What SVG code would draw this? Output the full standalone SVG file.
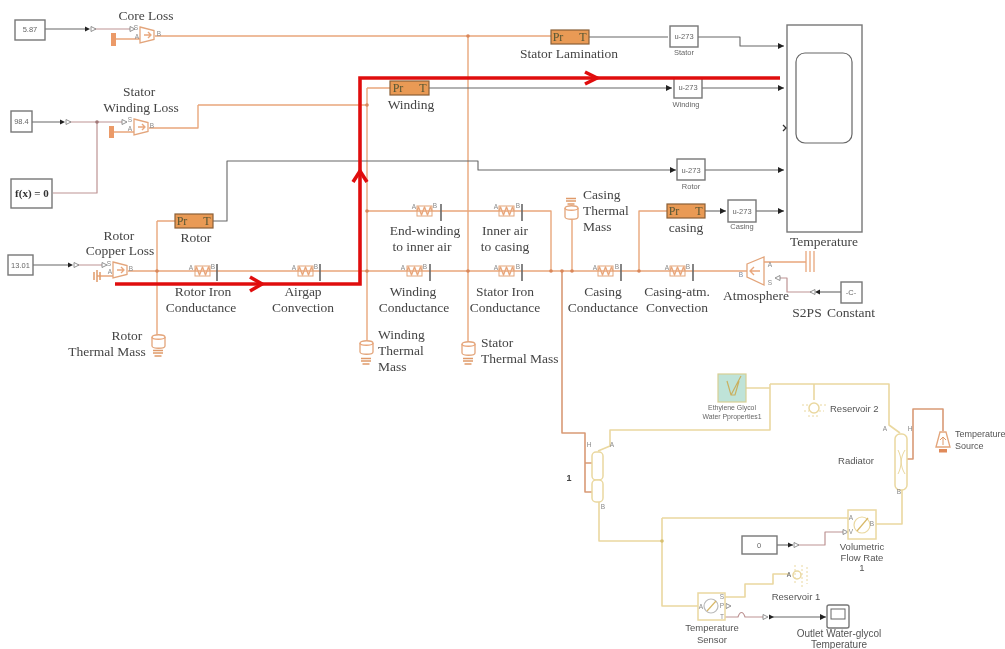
<svg xmlns="http://www.w3.org/2000/svg" width="1005" height="649" viewBox="0 0 1005 649">
<style>
text{font-family:"Liberation Serif","Times New Roman",serif;font-size:13.5px;fill:#444;text-anchor:middle}
.l{text-anchor:start}
.s{font-family:"Liberation Sans",Arial,sans-serif;font-size:7.5px;fill:#666}
.e{font-family:"Liberation Sans",Arial,sans-serif;font-size:6.9px;fill:#666}
.m{font-family:"Liberation Sans",Arial,sans-serif;font-size:9.500px;fill:#555}
.p{font-family:"Liberation Sans",Arial,sans-serif;font-size:6.500px;fill:#888}
.n{font-family:"Liberation Sans",Arial,sans-serif;font-size:9.500px;fill:#555}
.c{fill:none;stroke-linejoin:round}
.o{stroke:#e9a77c;stroke-width:1.4}
.g{stroke:#666;stroke-width:1.1}
.v{stroke:#bd9393;stroke-width:1.2}
.y{stroke:#ead8a0;stroke-width:1.6}
.d{stroke:#d99a76;stroke-width:1.6}
.r{stroke:#e01010;stroke-width:3.6;fill:none}
.box{fill:#fff;stroke:#777;stroke-width:1.4}
.ob{fill:#fff;stroke:#e3a57b;stroke-width:1.3}
.yb{fill:#fff;stroke:#ead8a0;stroke-width:1.5}
.pt{fill:#e99a55;stroke:#8a6038;stroke-width:1.2}
.bar{stroke:#666;stroke-width:1.6;fill:none}
.pl{font-size:12px;fill:#553}
</style>
<defs>
<filter id="soft" x="0" y="0" width="100%" height="100%"><feGaussianBlur stdDeviation="0.35"/></filter>
<marker id="a" markerWidth="7" markerHeight="6" refX="6" refY="3" orient="auto" markerUnits="userSpaceOnUse"><path d="M0 0L6 3L0 6z" fill="#222"/></marker>
<g id="res"><path class="c o" d="M0 0l1.500-4 3 8 3-8 3 8 3-8 1.500 4"/><rect x="0" y="-5" width="15" height="10" fill="none" stroke="#e3a57b"/></g>
<g id="tri"><path d="M0 -2.500L5 0L0 2.500z" fill="#fff" stroke="#777" stroke-width=".8"/></g>
<g id="ftri"><path d="M0 -2.500L5 0L0 2.500z" fill="#222"/></g>
<g id="src"><path class="ob" d="M0 -8L14 -4.500V4.500L0 8z"/><path d="M4 0H10M8 -3L11 0L8 3" class="c o"/></g>
<g id="cyl"><path class="ob" d="M0 2C0 -1 13 -1 13 2V11C13 14 0 14 0 11z"/><path class="c o" d="M0 2C0 5 13 5 13 2"/></g>
<g id="gnd"><path d="M-5 0H5M-3.500 3H3.500M-5 -2.500H5" stroke="#e09a6a" stroke-width="1.500" fill="none"/></g>
</defs>
<g id="diagram" filter="url(#soft)">
<rect width="1005" height="649" fill="#fff"/>
<g id="connectors">
<path class="c o" d="M155 36H551M468 36V342M367 88H390M367 88V341M198 105H367M149 128H198V105"/>
<path class="c o" d="M128 271H747M157 221H175M157 221V335M367 211H551V271M572 220V271M639 271V211H667"/>
<path class="c o" d="M113 39H140M111 132H134M97 276H113M764 262H806"/>
<path class="c g" d="M45 29H85M32 122H60M33 265H68M589 37H668M698 37H740V46H784" marker-end="url(#a)"/>
<path class="c g" d="M429 88H672" marker-end="url(#a)"/><path class="c g" d="M702 88H784" marker-end="url(#a)"/>
<path class="c g" d="M213 221H227V161H478V170H676" marker-end="url(#a)"/><path class="c g" d="M705 170H784" marker-end="url(#a)"/>
<path class="c g" d="M705 211H726" marker-end="url(#a)"/><path class="c g" d="M756 211H784" marker-end="url(#a)"/>
<path class="c g" d="M841 292H820"/><path class="c g" d="M777 545H793"/><path class="c g" d="M771 617H826" marker-end="url(#a)"/>
<path class="c v" d="M92 29H130M68 122H122M53 193H97V122M74 265H102M815 292H787V278H778M798 545H825V532H845M725 617H738C740 611 743 611 745 617H765"/>
<path class="c d" d="M562 271V433H585V492H592M585 463H592M585 433V452M943 431V409H913V459H907"/>
<path class="c y" d="M746 388H770M770 384H889V425L900 433M770 384V430H610V446L598 451M599 502V541H662M662 518H848M662 518V606H698M876 524H902V490M725 597H745V584H773V574H789M814 384V400"/>
<circle cx="97" cy="122" r="1.800" fill="#a07878"/>
<g fill="#d9875a"><circle cx="468" cy="36" r="1.800"/><circle cx="367" cy="105" r="1.800"/><circle cx="157" cy="271" r="1.800"/><circle cx="367" cy="211" r="1.800"/><circle cx="367" cy="271" r="1.800"/><circle cx="468" cy="271" r="1.800"/><circle cx="551" cy="271" r="1.800"/><circle cx="562" cy="271" r="1.800"/><circle cx="572" cy="271" r="1.800"/><circle cx="639" cy="271" r="1.800"/></g>
<circle cx="662" cy="541" r="1.800" fill="#d8c070"/>
<use href="#ftri" x="85" y="29"/><use href="#tri" x="91" y="29"/><use href="#tri" x="130" y="29"/>
<use href="#ftri" x="60" y="122"/><use href="#tri" x="66" y="122"/><use href="#tri" x="122" y="122"/>
<use href="#ftri" x="68" y="265"/><use href="#tri" x="74" y="265"/><use href="#tri" x="102" y="265"/>
<g transform="translate(820 292) rotate(180)"><use href="#ftri"/></g><g transform="translate(815 292) rotate(180)"><use href="#tri"/></g><g transform="translate(780 278) rotate(180)"><use href="#tri"/></g>
<use href="#ftri" x="788" y="545"/><use href="#tri" x="794" y="545"/><use href="#tri" x="843" y="532"/>
<use href="#tri" x="763" y="617"/><use href="#ftri" x="769" y="617"/><use href="#tri" x="726" y="606"/>
</g>

<g id="const-core"><rect class="box" x="15" y="20" width="30" height="20"/><text class="s" x="30" y="32">5.87</text></g>
<g id="const-winding"><rect class="box" x="11" y="111" width="21" height="21"/><text class="s" x="21.500" y="124">98.4</text></g>
<g id="fx"><rect class="box" x="11" y="179" width="41" height="29"/><text x="32" y="197" style="font-size:11px;font-weight:bold;fill:#333">f(x) = 0</text></g>
<g id="const-rotor"><rect class="box" x="8" y="255" width="25" height="20"/><text class="s" x="20.500" y="268">13.01</text></g>

<g id="core-loss"><rect x="111" y="33" width="5" height="13" fill="#eb9a68"/><use href="#src" x="140" y="35"/><text class="p" x="136" y="30">S</text><text class="p" x="137" y="39">A</text><text class="p" x="159" y="36">B</text><text x="146" y="20">Core Loss</text></g>
<g id="winding-loss"><rect x="109" y="126" width="5" height="12" fill="#eb9a68"/><use href="#src" x="134" y="127"/><text class="p" x="130" y="122">S</text><text class="p" x="130" y="131">A</text><text class="p" x="152" y="128">B</text><text x="139" y="96">Stator</text><text x="141" y="112">Winding Loss</text></g>
<g id="rotor-loss"><path d="M97 270V282M94 272V280M100 272V280" stroke="#e09a6a" stroke-width="1.500" fill="none"/><use href="#src" x="113" y="270"/><text class="p" x="109" y="266">S</text><text class="p" x="110" y="274">A</text><text class="p" x="131" y="271">B</text><text x="119" y="240">Rotor</text><text x="120" y="255">Copper Loss</text></g>

<g id="rotor-sensor"><rect class="pt" x="175" y="214" width="38" height="14"/><text class="pl" x="182" y="225">Pr</text><text class="pl" x="207" y="225">T</text><text x="196" y="242">Rotor</text></g>
<g id="lamination-sensor"><rect class="pt" x="551" y="30" width="38" height="14"/><text class="pl" x="558" y="41">Pr</text><text class="pl" x="583" y="41">T</text><text x="569" y="58">Stator Lamination</text></g>
<g id="winding-sensor"><rect class="pt" x="390" y="81" width="39" height="14"/><text class="pl" x="398" y="92">Pr</text><text class="pl" x="423" y="92">T</text><text x="411" y="109">Winding</text></g>
<g id="casing-sensor"><rect class="pt" x="667" y="204" width="38" height="14"/><text class="pl" x="674" y="215">Pr</text><text class="pl" x="699" y="215">T</text><text x="686" y="232">casing</text></g>

<g id="rotor-iron"><use href="#res" x="195" y="271"/><path class="bar" d="M217 264V281"/><text class="p" x="191" y="270">A</text><text class="p" x="213" y="269">B</text><text x="203" y="296">Rotor Iron</text><text x="201" y="312">Conductance</text></g>
<g id="airgap"><use href="#res" x="298" y="271"/><path class="bar" d="M320 264V281"/><text class="p" x="294" y="270">A</text><text class="p" x="316" y="269">B</text><text x="303" y="296">Airgap</text><text x="303" y="312">Convection</text></g>
<g id="winding-cond"><use href="#res" x="407" y="271"/><path class="bar" d="M430 264V281"/><text class="p" x="403" y="270">A</text><text class="p" x="425" y="269">B</text><text x="413" y="296">Winding</text><text x="414" y="312">Conductance</text></g>
<g id="stator-iron"><use href="#res" x="499" y="271"/><path class="bar" d="M522 264V281"/><text class="p" x="496" y="270">A</text><text class="p" x="518" y="269">B</text><text x="505" y="296">Stator Iron</text><text x="505" y="312">Conductance</text></g>
<g id="casing-cond"><use href="#res" x="598" y="271"/><path class="bar" d="M621 264V281"/><text class="p" x="595" y="270">A</text><text class="p" x="617" y="269">B</text><text x="603" y="296">Casing</text><text x="603" y="312">Conductance</text></g>
<g id="casing-atm"><use href="#res" x="670" y="271"/><path class="bar" d="M693 264V281"/><text class="p" x="667" y="270">A</text><text class="p" x="688" y="269">B</text><text x="677" y="296">Casing-atm.</text><text x="677" y="312">Convection</text></g>
<g id="end-winding"><use href="#res" x="417" y="211"/><path class="bar" d="M441 204V221"/><text class="p" x="414" y="209">A</text><text class="p" x="435" y="208">B</text><text x="425" y="235">End-winding</text><text x="422" y="251">to inner air</text></g>
<g id="inner-air"><use href="#res" x="499" y="211"/><path class="bar" d="M522 204V221"/><text class="p" x="496" y="209">A</text><text class="p" x="518" y="208">B</text><text x="505" y="235">Inner air</text><text x="505" y="251">to casing</text></g>

<g id="rotor-mass"><use href="#cyl" x="152" y="335"/><use href="#gnd" x="158" y="353"/><text x="127" y="340">Rotor</text><text x="107" y="356">Thermal Mass</text></g>
<g id="winding-mass"><use href="#cyl" x="360" y="341"/><use href="#gnd" x="366" y="361"/><text class="l" x="378" y="339">Winding</text><text class="l" x="378" y="355">Thermal</text><text class="l" x="378" y="371">Mass</text></g>
<g id="stator-mass"><use href="#cyl" x="462" y="342"/><use href="#gnd" x="468" y="361"/><text class="l" x="481" y="347">Stator</text><text class="l" x="481" y="363">Thermal Mass</text></g>
<g id="casing-mass"><use href="#cyl" x="565" y="206"/><use href="#gnd" x="571" y="201"/><text class="l" x="583" y="199">Casing</text><text class="l" x="583" y="215">Thermal</text><text class="l" x="583" y="231">Mass</text></g>

<g id="u-stator"><rect class="box" x="670" y="26" width="28" height="21"/><text class="s" x="684" y="39">u-273</text><text class="s" x="684" y="55">Stator</text></g>
<g id="u-winding"><rect class="box" x="674" y="78" width="28" height="20"/><text class="s" x="688" y="90">u-273</text><text class="s" x="686" y="107">Winding</text></g>
<g id="u-rotor"><rect class="box" x="677" y="159" width="28" height="21"/><text class="s" x="691" y="173">u-273</text><text class="s" x="691" y="189">Rotor</text></g>
<g id="u-casing"><rect class="box" x="728" y="200" width="28" height="22"/><text class="s" x="742" y="214">u-273</text><text class="s" x="742" y="229">Casing</text></g>

<g id="temperature"><rect class="box" x="787" y="25" width="75" height="207"/><rect x="796" y="53" width="56" height="90" rx="9" fill="#fff" stroke="#666" stroke-width="1.200"/><path d="M783 125L786 128L783 131" fill="none" stroke="#333" stroke-width="1.300"/><text x="824" y="246">Temperature</text></g>

<g id="atmosphere"><path class="ob" d="M747 264L764 257V285L747 277z"/><path class="c o" d="M760 271H750M754 267L750 271L754 275"/><text class="p" x="741" y="277" style="fill:#7a8aa0">B</text><text class="p" x="770" y="267">A</text><text class="p" x="770" y="285">S</text><path d="M806 251V272M810 251V272M814 251V272" stroke="#e9a77c" stroke-width="1.300"/><text x="756" y="300">Atmosphere</text></g>
<g id="s2ps"><text x="807" y="317">S2PS</text></g>
<g id="constant"><rect class="box" x="841" y="282" width="21" height="21"/><text class="s" x="851" y="295">-C-</text><text x="851" y="317">Constant</text></g>

<g id="red-path"><path class="r" d="M115 284H360V78H780"/><path class="r" d="M250 277L262 284L250 291M353 182L360 171L367 182M585 72L597 78L585 84"/></g>

<g id="fluid-props"><rect x="718" y="374" width="28" height="28" fill="#bfe3d8" stroke="#d8cf94" stroke-width="1.200"/><path d="M727 381L731 395H735L739 381M731 395L741 376" fill="none" stroke="#c9b060" stroke-width="1.200"/><text class="e" x="732" y="410">Ethylene Glycol</text><text class="e" x="732" y="419">Water Pproperties1</text></g>
<g id="reservoir-2"><circle cx="814" cy="408" r="5" class="yb"/><path d="M802 405H808M820 405H826M804 411H809M819 411H824M808 416H820" stroke="#ead8a0" stroke-dasharray="2 2" fill="none"/><text class="m l" x="830" y="412">Reservoir 2</text></g>
<g id="radiator"><rect class="yb" x="895" y="434" width="12" height="56" rx="5"/><path d="M905 450C900 458 900 466 905 474M898 450C902 458 902 466 898 474" fill="none" stroke="#ead8a0"/><text class="p" x="885" y="431">A</text><text class="p" x="910" y="431">H</text><text class="p" x="899" y="494">B</text><text class="m" x="856" y="464">Radiator</text></g>
<g id="temp-source"><path class="ob" d="M936 447L940 432H946L950 447z"/><path d="M943 445V437M940 440L943 437L946 440" fill="none" stroke="#e09a6a"/><rect x="939" y="449" width="8" height="3.500" fill="#e08a5a"/><text class="m l" x="955" y="437" style="font-size:9px">Temperature</text><text class="m l" x="955" y="449" style="font-size:9px">Source</text></g>
<g id="heat-exchanger"><rect class="yb" x="592" y="452" width="11" height="28" rx="4"/><rect class="yb" x="592" y="480" width="11" height="22" rx="4"/><text class="p" x="589" y="447">H</text><text class="p" x="612" y="447">A</text><text class="p" x="603" y="509">B</text><text x="569" y="481" style="font-family:'Liberation Sans',Arial,sans-serif;font-size:9px;font-weight:bold;fill:#444">1</text></g>
<g id="flow-rate"><rect class="yb" x="848" y="510" width="28" height="29"/><circle cx="862" cy="525" r="8" fill="none" stroke="#ead8a0" stroke-width="1.200"/><path d="M857 531L868 518" stroke="#d8b868" stroke-width="1.200"/><text class="p" x="851" y="520">A</text><text class="p" x="872" y="526">B</text><text class="p" x="851" y="534">V</text><text class="n" x="862" y="550">Volumetric</text><text class="n" x="862" y="561">Flow Rate</text><text class="n" x="862" y="571">1</text></g>
<g id="const-zero"><rect class="box" x="742" y="536" width="35" height="18"/><text class="s" x="759" y="548">0</text></g>
<g id="temp-sensor"><rect class="yb" x="698" y="593" width="27" height="27"/><circle cx="711" cy="606" r="7" fill="none" stroke="#bbb" stroke-width="1.200"/><path d="M707 611L716 601" stroke="#d8b868" stroke-width="1.200"/><text class="p" x="701" y="609">A</text><text class="p" x="722" y="599">S</text><text class="p" x="722" y="608">P</text><text class="p" x="722" y="619">T</text><text class="n" x="712" y="631">Temperature</text><text class="n" x="712" y="643">Sensor</text></g>
<g id="reservoir-1"><circle cx="797" cy="575" r="4" class="yb"/><path d="M795 565V585M802 565V587M807 567V584" stroke="#ead8a0" stroke-dasharray="2 2" fill="none"/><text class="p" x="789" y="577" style="fill:#555">A</text><text class="n" x="796" y="600">Reservoir 1</text></g>
<g id="scope"><rect class="box" x="827" y="605" width="22" height="23" rx="2"/><rect x="831" y="609" width="14" height="10" fill="#fff" stroke="#666"/><text class="n" x="839" y="637" style="font-size:10px">Outlet Water-glycol</text><text class="n" x="839" y="648" style="font-size:10px">Temperature</text></g>
</g>
</svg>
